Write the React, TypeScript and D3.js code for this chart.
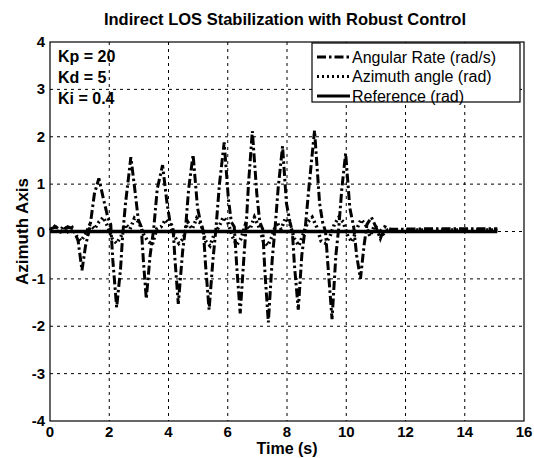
import React, { useEffect, useRef } from "react";
import * as d3 from "d3";

// angular rate (rad/s)
const rateT = [0, 0.2, 0.4, 0.6, 0.8, 0.95, 1.08, 1.2, 1.35, 1.5, 1.65, 1.8, 1.95, 2.05, 2.12, 2.25, 2.38, 2.45, 2.55, 2.73, 2.88, 2.98, 3.08, 3.15, 3.25, 3.38, 3.5, 3.62, 3.8, 3.95, 4.05, 4.15, 4.22, 4.33, 4.48, 4.58, 4.68, 4.83, 4.98, 5.08, 5.18, 5.25, 5.37, 5.5, 5.6, 5.72, 5.88, 6.02, 6.12, 6.22, 6.3, 6.42, 6.55, 6.62, 6.7, 6.83, 6.98, 7.08, 7.18, 7.25, 7.37, 7.5, 7.6, 7.7, 7.85, 7.98, 8.1, 8.18, 8.25, 8.38, 8.5, 8.62, 8.75, 8.93, 9.1, 9.2, 9.3, 9.38, 9.52, 9.65, 9.75, 9.85, 9.98, 10.12, 10.25, 10.35, 10.48, 10.6, 10.7, 10.85, 11.0, 11.15, 11.3, 11.5, 12, 13, 14, 15.1];
const rateV = [0.05, 0.1, 0.0, 0.1, 0.05, -0.2, -0.82, -0.3, 0.1, 0.8, 1.12, 0.7, 0.3, 0.15, -0.6, -1.6, -0.8, -0.1, 0.6, 1.57, 0.8, 0.25, 0.1, -0.6, -1.42, -0.5, 0.05, 0.9, 1.4, 0.6, 0.2, 0.1, -0.6, -1.53, -0.4, 0.1, 0.9, 1.62, 0.5, 0.2, 0.0, -0.7, -1.65, -0.6, 0.05, 1.0, 1.88, 0.7, 0.2, 0.1, -0.7, -1.73, -0.5, 0.1, 1.0, 2.12, 0.8, 0.2, 0.05, -0.8, -1.92, -0.6, 0.1, 0.9, 1.8, 0.6, 0.2, 0.0, -0.7, -1.65, -0.5, 0.1, 1.0, 2.13, 0.6, 0.2, 0.0, -0.7, -1.85, -0.5, 0.1, 0.9, 1.65, 0.5, 0.1, -0.5, -1.0, -0.3, 0.15, 0.3, 0.1, -0.15, 0.1, 0.05, 0.05, 0.06, 0.06, 0.06];

// azimuth angle (rad)
const angT = [0, 0.15, 0.3, 0.45, 0.6, 0.75, 0.9, 1.05, 1.2, 1.35, 1.5, 1.65, 1.8, 1.95, 2.1, 2.25, 2.4, 2.55, 2.7, 2.85, 3.0, 3.15, 3.3, 3.45, 3.6, 3.75, 3.9, 4.05, 4.2, 4.35, 4.5, 4.65, 4.8, 4.95, 5.1, 5.25, 5.4, 5.55, 5.7, 5.85, 6.0, 6.15, 6.3, 6.45, 6.6, 6.75, 6.9, 7.05, 7.2, 7.35, 7.5, 7.65, 7.8, 7.95, 8.1, 8.25, 8.4, 8.55, 8.7, 8.85, 9.0, 9.15, 9.3, 9.45, 9.6, 9.75, 9.9, 10.05, 10.2, 10.35, 10.5, 10.65, 10.8, 10.95, 11.1, 11.25, 11.4, 12, 13, 14, 15.1];
const angV = [0.02, 0.1, -0.05, 0.12, 0.0, 0.08, -0.1, -0.2, -0.05, 0.15, 0.05, 0.2, 0.3, 0.1, -0.15, -0.25, -0.1, 0.15, 0.05, 0.28, 0.2, -0.05, -0.2, -0.28, 0.05, 0.1, 0.25, 0.15, -0.1, -0.25, -0.15, 0.2, 0.05, 0.28, 0.15, -0.2, -0.3, -0.05, 0.1, 0.3, 0.2, -0.1, -0.28, -0.15, 0.15, 0.05, 0.3, 0.1, -0.2, -0.3, -0.1, 0.2, 0.05, 0.28, 0.15, -0.15, -0.3, -0.05, 0.2, 0.3, 0.1, -0.2, -0.25, -0.1, 0.15, 0.3, 0.2, -0.1, -0.22, 0.05, 0.25, 0.15, -0.1, 0.12, 0.05, -0.05, 0.03, 0.03, 0.03, 0.03, 0.03];

// reference (rad)
const refT = [0, 15.1];
const refV = [0, 0];

const xTicks = [0, 2, 4, 6, 8, 10, 12, 14, 16];
const yTicks = [-4, -3, -2, -1, 0, 1, 2, 3, 4];
const gains = ["Kp = 20", "Kd = 5", "Ki = 0.4"];
const legendItems = ["Angular Rate (rad/s)", "Azimuth angle (rad)", "Reference (rad)"];

const W = 534;
const H = 458;

const App = () => {
  const ref = useRef<SVGSVGElement>(null);

  useEffect(() => {
    const svg = d3.select(ref.current);
    svg.selectAll("*").remove();
    const font = "Liberation Sans, Arial, sans-serif";
    const left = 50, right = 524, top = 42, bottom = 421;

    const x = d3.scaleLinear().domain([0, 16]).range([left, right]);
    const y = d3.scaleLinear().domain([-4, 4]).range([bottom, top]);

    svg.append("rect").attr("width", W).attr("height", H).attr("fill", "#fff");

    // grid
    const grid = svg.append("g").attr("stroke", "#000").attr("stroke-width", 1).attr("stroke-dasharray", "3,4");
    xTicks.slice(1, -1).forEach((t) => {
      grid.append("line").attr("x1", x(t)).attr("x2", x(t)).attr("y1", top).attr("y2", bottom);
    });
    yTicks.slice(1, -1).forEach((t) => {
      grid.append("line").attr("x1", left).attr("x2", right).attr("y1", y(t)).attr("y2", y(t));
    });

    // lines
    const line = d3.line<[number, number]>().x((d) => x(d[0])).y((d) => y(d[1]));
    svg.append("path")
      .attr("d", line(refT.map((t, i) => [t, refV[i]]) as [number, number][]))
      .attr("fill", "none").attr("stroke", "#000").attr("stroke-width", 3.5);
    svg.append("path")
      .attr("d", line(angT.map((t, i) => [t, angV[i]]) as [number, number][]))
      .attr("fill", "none").attr("stroke", "#000").attr("stroke-width", 3.5).attr("stroke-dasharray", "2,3");
    svg.append("path")
      .attr("d", line(rateT.map((t, i) => [t, rateV[i]]) as [number, number][]))
      .attr("fill", "none").attr("stroke", "#000").attr("stroke-width", 3).attr("stroke-dasharray", "9,3,2.5,3");

    // frame
    svg.append("rect").attr("x", left).attr("y", top).attr("width", right - left).attr("height", bottom - top)
      .attr("fill", "none").attr("stroke", "#000").attr("stroke-width", 1.2);

    // tick labels
    svg.append("g").selectAll("text").data(xTicks).enter().append("text")
      .attr("x", (d) => x(d)).attr("y", bottom + 16).attr("text-anchor", "middle")
      .attr("font-family", font).attr("font-weight", "bold").attr("font-size", 15).text((d) => d);
    svg.append("g").selectAll("text").data(yTicks).enter().append("text")
      .attr("x", left - 5).attr("y", (d) => y(d) + 5).attr("text-anchor", "end")
      .attr("font-family", font).attr("font-weight", "bold").attr("font-size", 15).text((d) => d);

    // titles
    svg.append("text").attr("x", 285).attr("y", 25).attr("text-anchor", "middle")
      .attr("font-family", font).attr("font-weight", "bold").attr("font-size", 16.5)
      .text("Indirect LOS Stabilization with Robust Control");
    svg.append("text").attr("x", x(8)).attr("y", 454).attr("text-anchor", "middle")
      .attr("font-family", font).attr("font-weight", "bold").attr("font-size", 16).text("Time (s)");
    svg.append("text").attr("transform", `translate(28,${y(0)}) rotate(-90)`).attr("text-anchor", "middle")
      .attr("font-family", font).attr("font-weight", "bold").attr("font-size", 17).text("Azimuth Axis");

    // gains
    svg.append("g").selectAll("text").data(gains).enter().append("text")
      .attr("x", 58).attr("y", (d, i) => 62 + i * 21)
      .attr("font-family", font).attr("font-weight", "bold").attr("font-size", 16).text((d) => d);

    // legend
    const lg = svg.append("g");
    lg.append("rect").attr("x", 312).attr("y", 43).attr("width", 208).attr("height", 59)
      .attr("fill", "#fff").attr("stroke", "#000").attr("stroke-width", 1.2);
    const dashes = ["9,3,2.5,3", "2,3", null];
    legendItems.forEach((name, i) => {
      const cy = 57 + i * 19.5;
      const l = lg.append("line").attr("x1", 317).attr("x2", 350).attr("y1", cy).attr("y2", cy)
        .attr("stroke", "#000").attr("stroke-width", 3);
      if (dashes[i]) l.attr("stroke-dasharray", dashes[i] as string);
      lg.append("text").attr("x", 352).attr("y", cy + 5.5).attr("font-family", font).attr("font-size", 16).text(name);
    });
  }, []);

  return (
    <div style={{ position: "absolute", left: 0, top: 0 }}>
      <svg ref={ref} width={W} height={H}></svg>
    </div>
  );
};

export default App;
